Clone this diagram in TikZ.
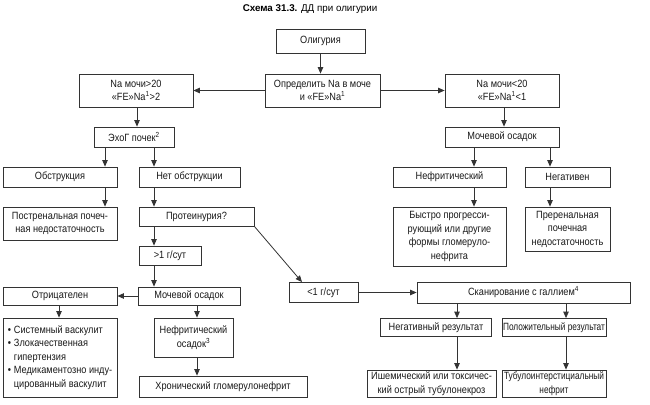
\documentclass[tikz,border=0pt]{standalone}
\usepackage{fontspec}
\setmainfont{Liberation Sans}[FakeStretch=0.875]
\newfontfamily\titlefont{Liberation Sans}
\newfontfamily\narrowfont{Liberation Sans}[FakeStretch=0.79]
\usetikzlibrary{arrows.meta}
\begin{document}
\begin{tikzpicture}[x=1pt,y=-1pt,
  box/.style={draw=black!80, line width=0.8pt, align=center, inner sep=0.5pt,
    font=\fontsize{10.5}{13.5}\selectfont, text=black!90},
  narrowbox/.style={box, font=\narrowfont\fontsize{10.5}{13.5}\selectfont},
  arr/.style={draw=black!80, line width=0.8pt, -{Triangle[length=6.5pt,width=5.5pt]}}]
\useasboundingbox (0,0) rectangle (650,404);
\node[font=\titlefont\fontsize{9.8}{11}\selectfont] (title) at (310,9) {\textbf{Схема 31.3.} ДД при олигурии};
% boxes
\node[box, minimum width=89pt, minimum height=24pt] (olig) at (320.5,41) {Олигурия};
\node[box, minimum width=115pt, minimum height=33pt] (opr) at (322.5,90.5) {Определить Na в моче\\и «FE»Na\textsuperscript{1}};
\node[box, minimum width=114pt, minimum height=33pt] (nagt) at (136,90.5) {Na мочи>20\\«FE»Na\textsuperscript{1}>2};
\node[box, minimum width=114pt, minimum height=33pt] (nalt) at (502,90.5) {Na мочи<20\\«FE»Na\textsuperscript{1}<1};
\node[box, minimum width=80pt, minimum height=20pt] (echo) at (134,137) {ЭхоГ почек\textsuperscript{2}};
\node[box, minimum width=114pt, minimum height=20pt] (mochR) at (502,137) {Мочевой осадок};
\node[box, minimum width=114pt, minimum height=20pt] (obstr) at (60,177) {Обструкция};
\node[box, minimum width=101pt, minimum height=20pt] (noobstr) at (189.5,177) {Нет обструкции};
\node[box, minimum width=114pt, minimum height=33pt] (postren) at (60,223.5) {Постренальная почеч-\\ная недостаточность};
\node[box, minimum width=115pt, minimum height=19pt] (prot) at (196.5,216.5) {Протеинурия?};
\node[box, minimum width=62pt, minimum height=19pt] (gt1) at (170,255.5) {>1 г/сут};
\node[box, minimum width=113pt, minimum height=20pt] (nephR) at (449.5,177) {Нефритический};
\node[box, minimum width=85pt, minimum height=20pt] (negR) at (567.5,177) {Негативен};
\node[box, minimum width=113pt, minimum height=59pt] (bystro) at (449.5,236.5) {Быстро прогресси-\\рующий или другие\\формы гломеруло-\\нефрита};
\node[box, minimum width=85pt, minimum height=44pt] (preren) at (567.5,229) {Преренальная\\почечная\\недостаточность};
\node[box, minimum width=114pt, minimum height=18pt] (otr) at (60,296) {Отрицателен};
\node[box, minimum width=102pt, minimum height=18pt] (mochL) at (189,296) {Мочевой осадок};
\node[box, minimum width=114pt, minimum height=79pt] (bul) at (60,357.5) {\begin{tabular}{@{}l@{\hspace{3pt}}l@{}}•&Системный васкулит\\•&Злокачественная\\&гипертензия\\•&Медикаментозно инду-\\&цированный васкулит\end{tabular}};
\node[box, minimum width=79pt, minimum height=39pt] (nephos) at (193.5,337.5) {Нефритический\\осадок\textsuperscript{3}};
\node[box, minimum width=168pt, minimum height=21pt] (chron) at (223,386.5) {Хронический гломерулонефрит};
\node[box, minimum width=69pt, minimum height=20pt] (lt1) at (323.5,292.5) {<1 г/сут};
\node[box, minimum width=213pt, minimum height=21pt] (scan) at (523.5,292.5) {Сканирование с галлием\textsuperscript{4}};
\node[box, minimum width=111pt, minimum height=18pt] (negres) at (436,327.5) {Негативный результат};
\node[narrowbox, minimum width=104pt, minimum height=18pt] (posres) at (554,327.5) {Положительный результат};
\node[box, minimum width=129pt, minimum height=27pt] (ischem) at (431.5,383.5) {Ишемический или токсичес-\\кий острый тубулонекроз};
\node[narrowbox, minimum width=104pt, minimum height=27pt] (tubulo) at (554,383.5) {Тубулоинтерстициальный\\нефрит};
% connectors
\draw[arr] (olig.south) -- (opr.north -| olig.south);
\draw[arr] (opr.west) -- (nagt.east);
\draw[arr] (opr.east) -- (nalt.west);
\draw[arr] (nagt.south -| 137,0) -- (echo.north -| 137,0);
\draw[arr] (echo.south -| 105,0) -- (obstr.north -| 105,0);
\draw[arr] (echo.south -| 154,0) -- (noobstr.north -| 154,0);
\draw[arr] (obstr.south -| 105,0) -- (postren.north -| 105,0);
\draw[arr] (noobstr.south -| 154,0) -- (prot.north -| 154,0);
\draw[arr] (prot.south -| 154,0) -- (gt1.north -| 154,0);
\draw[arr] (gt1.south -| 154,0) -- (mochL.north -| 154,0);
\draw[arr] (prot.south east) -- (lt1.north -| 302,0);
\draw[arr] (mochL.west) -- (otr.east);
\draw[arr] (otr.south -| 59,0) -- (bul.north -| 59,0);
\draw[arr] (mochL.south -| 197,0) -- (nephos.north -| 197,0);
\draw[arr] (nephos.south -| 197,0) -- (chron.north -| 197,0);
\draw[arr] (lt1.east) -- (scan.west |- lt1.east);
\draw[arr] (scan.south -| 457,0) -- (negres.north -| 457,0);
\draw[arr] (scan.south -| 566,0) -- (posres.north -| 566,0);
\draw[arr] (negres.south -| 457,0) -- (ischem.north -| 457,0);
\draw[arr] (posres.south -| 566,0) -- (tubulo.north -| 566,0);
\draw[arr] (nalt.south -| 504,0) -- (mochR.north -| 504,0);
\draw[arr] (mochR.south -| 474,0) -- (nephR.north -| 474,0);
\draw[arr] (mochR.south -| 550,0) -- (negR.north -| 550,0);
\draw[arr] (nephR.south -| 474,0) -- (bystro.north -| 474,0);
\draw[arr] (negR.south -| 550,0) -- (preren.north -| 550,0);
\end{tikzpicture}
\end{document}
